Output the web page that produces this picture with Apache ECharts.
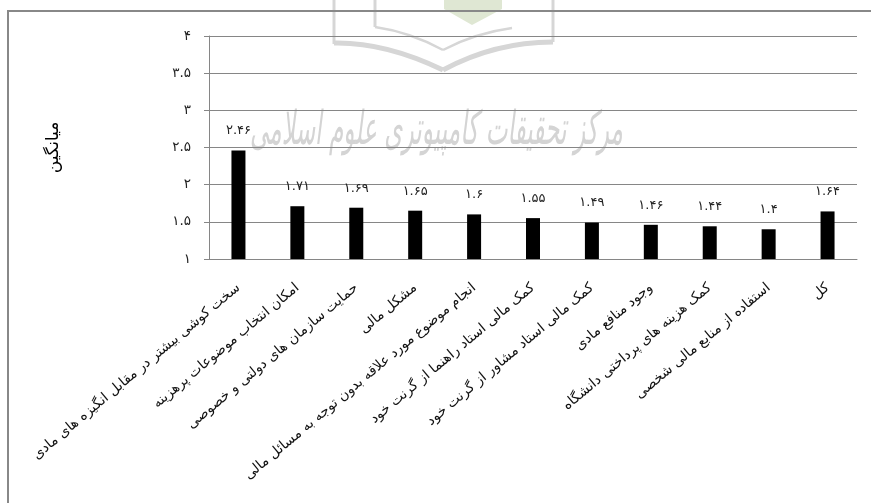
<!DOCTYPE html>
<html><head><meta charset="utf-8">
<style>html,body{margin:0;padding:0;background:#fff}#c{width:871px;height:503px}</style>
<script src="https://cdn.jsdelivr.net/npm/echarts@6/dist/echarts.min.js"></script>
</head><body><div id="c"></div>
<script>
const categories = ["سخت کوشی بیشتر در مقابل انگیزه های مادی","امکان انتخاب موضوعات پرهزینه","حمایت سازمان های دولتی و خصوصی","مشکل مالی","انجام موضوع مورد علاقه بدون توجه به مسائل مالی","کمک مالی استاد راهنما از گرنت خود","کمک مالی استاد مشاور از گرنت خود","وجود منافع مادی","کمک هزینه های پرداختی دانشگاه","استفاده از منابع مالی شخصی","کل"];
const values = [2.46,1.71,1.69,1.65,1.6,1.55,1.49,1.46,1.44,1.4,1.64];
const yTitle = "میانگین";
const watermark = "مرکز تحقیقات کامپیوتری علوم اسلامی";
const fa = v => String(v).replace(/\d/g, d => "۰۱۲۳۴۵۶۷۸۹"[d]);
const font = '"DejaVu Sans"';
const mark = {stroke:'#d6d6d6',fill:null};
const chart = echarts.init(document.getElementById('c'), null, {renderer:'canvas'});
chart.setOption({
  animation:false,
  backgroundColor:'#fff',
  graphic:[
    {type:'polygon',silent:true,z:-1,shape:{points:[[444,0],[502,0],[502,9],[472,25],[444,9]]},style:{fill:'#dfe7d3'}},
    {type:'line',silent:true,z:-1,shape:{x1:334,y1:0,x2:334,y2:44},style:{...mark,lineWidth:3}},
    {type:'line',silent:true,z:-1,shape:{x1:553,y1:0,x2:553,y2:42},style:{...mark,lineWidth:3}},
    {type:'line',silent:true,z:-1,shape:{x1:375,y1:0,x2:375,y2:27},style:{...mark,lineWidth:3}},
    {type:'bezierCurve',silent:true,z:-1,shape:{x1:334,y1:43,cpx1:385,cpy1:42,x2:443,y2:70},style:{...mark,lineWidth:5}},
    {type:'bezierCurve',silent:true,z:-1,shape:{x1:443,y1:70,cpx1:495,cpy1:42,x2:553,y2:42},style:{...mark,lineWidth:5}},
    {type:'bezierCurve',silent:true,z:-1,shape:{x1:375,y1:27,cpx1:410,cpy1:32,x2:443,y2:50},style:{...mark,lineWidth:2.5}},
    {type:'bezierCurve',silent:true,z:-1,shape:{x1:443,y1:50,cpx1:475,cpy1:33,x2:512,y2:28},style:{...mark,lineWidth:2.5}},
    {type:'text',silent:true,z:-1,x:250,y:108,scaleX:0.645,scaleY:1.3,style:{text:watermark,font:'italic 36px '+font,fill:'#d4d4d4'}},
    {type:'polyline',silent:true,z:5,shape:{points:[[8,503],[8,11],[871,11]]},style:{stroke:'#888',lineWidth:2,fill:null}}
  ],
  grid:{left:209,right:14,top:36,bottom:244,outerBoundsMode:'none',containLabel:false},
  xAxis:{type:'category',data:categories,
    axisLine:{lineStyle:{color:'#868686',width:1}},axisTick:{show:false},
    axisLabel:{interval:0,rotate:40,margin:27,color:'#111',fontSize:13.9,fontFamily:font,hideOverlap:false}},
  yAxis:{type:'value',min:1,max:4,interval:0.5,
    name:yTitle,nameLocation:'middle',nameRotate:90,nameGap:147,
    nameTextStyle:{color:'#000',fontSize:17,fontFamily:font},
    axisLine:{show:true,lineStyle:{color:'#868686'}},
    axisTick:{show:true,length:5,lineStyle:{color:'#868686'}},
    axisLabel:{formatter:fa,margin:18,color:'#222',fontSize:13.5,fontFamily:font},
    splitLine:{lineStyle:{color:'#868686',width:1}}},
  series:[{type:'bar',data:values,barWidth:14,itemStyle:{color:'#000'},
    label:{show:true,position:'top',distance:13,formatter:p=>fa(p.value),color:'#222',fontSize:13,fontFamily:font}}]
});
</script></body></html>
